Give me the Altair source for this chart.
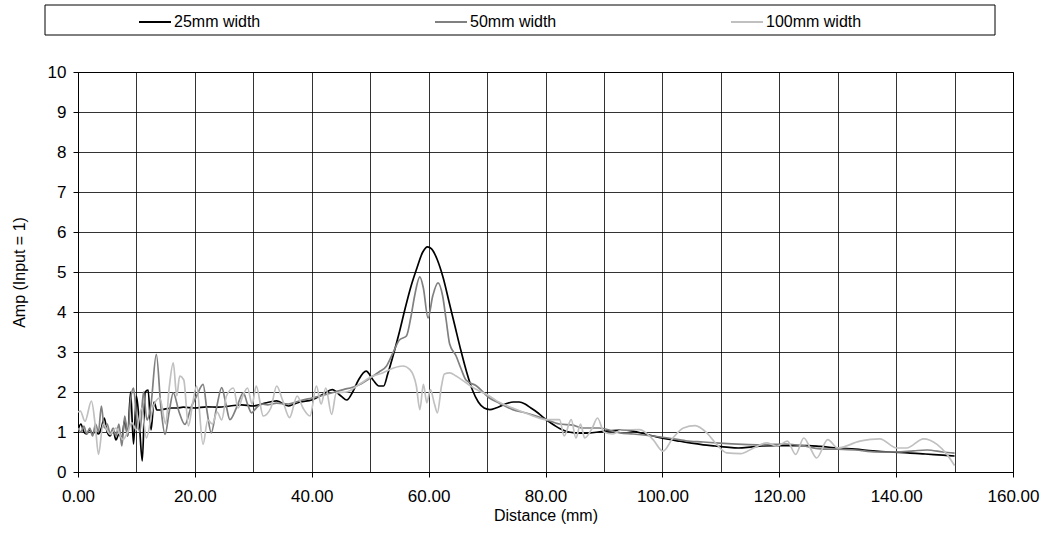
import altair as alt
import pandas as pd

# ---- data ----
x_25 = [0, 0.5, 1, 1.5, 2, 2.5, 3, 3.5, 4, 4.5, 5, 5.5, 6, 6.5, 7, 7.5, 8, 8.5, 9, 9.5,
        10, 10.5, 11, 11.5, 12, 12.5, 13, 13.5, 14, 15, 16, 17, 18, 20, 22, 24, 26, 28, 30,
        32, 34, 36, 37, 38, 40, 42, 43.5, 45, 46, 47, 48, 49.3, 50.5, 51.5, 52.3, 53, 54,
        55, 56, 57, 58, 59, 59.8, 60.5, 61.5, 62.5, 63.5, 64.5, 65.5, 66.5, 67.5, 68.5,
        69.5, 70.5, 71.5, 72.5, 73.5, 74.5, 75.5, 76.5, 77.5, 78.5, 79.5, 80.5, 81.5, 82.5,
        83.5, 85, 87, 89, 91, 93, 95, 97, 99, 101, 103, 105, 107, 109, 111, 113, 115, 117,
        119, 121, 123, 125, 127, 130, 133, 136, 139, 142, 145, 148, 150]
y_25 = [1.05, 1.2, 1.0, 0.95, 1.05, 0.97, 1.0, 0.95, 1.1, 1.35, 1.0, 0.9, 1.05, 0.8, 0.95,
        0.85, 1.3, 0.9, 2.0, 0.7, 1.9, 1.2, 0.28, 2.0, 2.05, 1.05, 1.75, 1.55, 1.55, 1.58,
        1.6, 1.6, 1.62, 1.6, 1.63, 1.62, 1.65, 1.68, 1.65, 1.72, 1.78, 1.65, 1.7, 1.75, 1.8,
        1.95, 2.06, 1.9, 1.8, 2.0, 2.3, 2.52, 2.3, 2.15, 2.15, 2.45, 2.95, 3.5, 4.1, 4.65,
        5.1, 5.5, 5.63, 5.58, 5.3, 4.85, 4.25, 3.65, 3.05, 2.5, 2.05, 1.75, 1.6, 1.56, 1.6,
        1.66, 1.72, 1.75, 1.75, 1.7, 1.6, 1.5, 1.38, 1.27, 1.17, 1.08, 1.02, 0.98, 0.97,
        1.0, 1.03, 1.05, 1.02, 0.95, 0.88, 0.82, 0.77, 0.72, 0.68, 0.65, 0.62, 0.6, 0.62,
        0.65, 0.66, 0.66, 0.66, 0.66, 0.64, 0.6, 0.57, 0.53, 0.5, 0.48, 0.45, 0.42, 0.4]

x_50 = [0, 0.5, 1, 1.5, 2, 2.5, 3, 3.5, 4, 4.5, 5, 5.5, 6, 6.5, 7, 7.5, 8, 8.5, 9, 9.5,
        10, 10.6, 11.2, 11.8, 12.5, 13.4, 14.2, 14.9, 15.6, 16.3, 17.3, 18.3, 19.3, 20.3,
        21.4, 22.1, 22.8, 23.7, 24.6, 25.3, 26, 27.1, 28.3, 29, 29.7, 30.5, 31.4, 32.5, 34,
        36, 38, 40, 42, 44, 45.4, 47, 48.2, 50, 51.5, 52.8, 53.9, 55, 56.2, 57, 57.6, 58.5,
        59.1, 59.9, 60.7, 61.6, 62.4, 63, 63.6, 64.7, 65.5, 66.4, 68.2, 70.4, 72.1, 74.4,
        76.5, 78.4, 80.1, 82.4, 84.7, 86.3, 89.2, 92.7, 95, 98.4, 101, 104, 107, 109.8,
        113.8, 117, 121, 124, 127, 130, 133, 136.6, 140, 143, 145.3, 148, 150]
y_50 = [1.1, 1.0, 1.15, 0.95, 1.1, 0.9, 1.2, 1.0, 1.65, 1.1, 1.2, 0.95, 1.1, 0.9, 1.2, 0.65,
        1.4, 0.9, 1.8, 2.1, 1.4, 1.0, 2.0, 1.3, 1.7, 2.94, 1.6, 0.94, 1.5, 1.98, 1.5, 1.19,
        1.6, 1.9, 2.19, 1.5, 0.98, 1.6, 2.11, 1.7, 1.31, 1.6, 1.98, 1.7, 1.48, 1.6, 1.7,
        1.68, 1.72, 1.7, 1.78, 1.85, 1.92, 2.0, 2.06, 2.12, 2.19, 2.35, 2.5, 2.65, 2.98,
        3.3, 3.4, 3.9, 4.4, 4.88, 4.6, 3.85, 4.4, 4.73, 4.4, 3.8, 3.2, 2.9, 2.6, 2.3, 2.15,
        1.85, 1.72, 1.56, 1.48, 1.4, 1.31, 1.2, 1.17, 1.1, 1.1, 0.98, 0.95, 0.9, 0.85, 0.78,
        0.75, 0.72, 0.69, 0.68, 0.7, 0.66, 0.58, 0.57, 0.55, 0.5, 0.5, 0.53, 0.55, 0.5, 0.47]

x_100 = [0, 0.4, 1.2, 2.3, 3, 3.5, 4.3, 5.5, 6.5, 7.7, 8.5, 9.2, 10, 10.9, 11.7, 12.9, 14,
         15, 15.6, 16.3, 16.9, 17.4, 18.1, 18.9, 19.6, 20.3, 21.4, 22.2, 23, 23.8, 24.6,
         25.4, 26.6, 27.4, 28.2, 29, 29.8, 30.5, 31.7, 33, 34, 35, 36.2, 37.5, 38.5, 39.7,
         40.8, 41.6, 42.4, 43.4, 44.2, 46, 48.2, 50.5, 52.2, 54, 55.6, 56.8, 57.9, 58.5,
         59.1, 59.7, 60.3, 61, 61.5, 62.2, 62.7, 63.6, 64.7, 66.4, 68.2, 70.4, 72, 74.4, 77,
         80.1, 82.4, 83.2, 84.4, 85.2, 86, 86.7, 88, 88.9, 90, 91.5, 93, 96.1, 98.4, 100.1,
         101.8, 103.6, 105.6, 107.6, 109.3, 111, 113.4, 115.6, 117.9, 119.6, 121.4, 122.8,
         124.2, 125.3, 126.4, 128.3, 130, 133.8, 137.2, 140.1, 141.8, 144.7, 147, 148.7, 150]
y_100 = [1.5, 1.52, 1.27, 1.77, 1.1, 0.44, 1.2, 0.94, 1.1, 0.81, 1.0, 1.23, 1.05, 1.6, 0.85,
         1.65, 1.85, 1.2, 2.1, 2.73, 1.9, 2.4, 2.3, 1.15, 1.7, 2.15, 0.69, 1.3, 1.2, 1.5,
         1.3, 1.9, 2.1, 1.6, 1.9, 2.1, 1.7, 2.15, 1.4, 1.6, 2.15, 1.8, 1.36, 1.9, 1.6, 1.4,
         2.15, 1.7, 2.1, 1.44, 1.98, 2.0, 2.2, 2.4, 2.48, 2.6, 2.65, 2.56, 2.15, 1.56, 2.19,
         1.73, 2.06, 1.7, 1.48, 2.15, 2.45, 2.48, 2.4, 2.23, 2.06, 1.9, 1.75, 1.6, 1.45,
         1.31, 1.31, 0.9, 1.31, 0.85, 1.2, 0.85, 1.1, 1.35, 1.0, 0.95, 1.05, 1.06, 0.81,
         0.52, 0.85, 1.1, 1.16, 0.98, 0.69, 0.48, 0.46, 0.6, 0.73, 0.65, 0.77, 0.44, 0.85,
         0.6, 0.35, 0.81, 0.6, 0.77, 0.83, 0.6, 0.6, 0.83, 0.69, 0.44, 0.16]

series_names = ["25mm width", "50mm width", "100mm width"]
series_colors = ["#000000", "#808080", "#c0c0c0"]
x_ticks = list(range(0, 161, 10))
y_ticks = list(range(0, 11, 1))

rows = []
for name, xs, ys in zip(series_names, [x_25, x_50, x_100], [y_25, y_50, y_100]):
    for i, (xv, yv) in enumerate(zip(xs, ys)):
        rows.append({"series": name, "x": xv, "y": yv, "i": i})
df = pd.DataFrame(rows)

FONT = "Liberation Sans"

lines = alt.Chart(df).mark_line(interpolate="monotone", strokeWidth=1.7, clip=True).encode(
    x=alt.X("x:Q",
            scale=alt.Scale(domain=[0, 160], nice=False, zero=False),
            axis=alt.Axis(values=x_ticks,
                          labelExpr="datum.value % 20 == 0 ? format(datum.value, '.2f') : ''",
                          tickOpacity={"condition": {"test": "datum.value % 20 != 0", "value": 0}, "value": 1},
                          title="Distance (mm)", titlePadding=3, labelPadding=11,
                          labelFontSize=17,
                          labelFlush=False, labelOverlap=False)),
    y=alt.Y("y:Q",
            scale=alt.Scale(domain=[0, 10], nice=False),
            axis=alt.Axis(values=y_ticks, format="d", title="Amp (Input = 1)",
                          labelFontSize=17, titlePadding=20, labelPadding=7)),
    color=alt.Color("series:N",
                    scale=alt.Scale(domain=series_names, range=series_colors),
                    legend=alt.Legend(orient="none", legendX=60, legendY=-67,
                                      direction="horizontal", columns=3,
                                      columnPadding=170, title=None,
                                      symbolType="stroke", symbolSize=1024,
                                      symbolStrokeWidth=2, labelOffset=2,
                                      labelFontSize=16, labelFont=FONT,
                                      labelColor="#000000")),
    order="i:Q",
    detail="series:N",
)

frame = alt.Chart(alt.Data(values=[{"a": 1}])).mark_rect(
    fill=None, stroke="#000000", strokeWidth=1
).encode(
    x=alt.value(-33), x2=alt.value(917), y=alt.value(-67), y2=alt.value(-37)
)

chart = alt.layer(frame, lines).properties(
    width=935, height=400,
    autosize=alt.AutoSizeParams(type="none"),
    padding={"left": 78, "top": 72, "right": 35, "bottom": 68},
    background="#ffffff",
).configure_axis(
    labelFont=FONT, titleFont=FONT, labelFontSize=16, titleFontSize=16,
    labelColor="#000000", titleColor="#000000", titleFontWeight="normal",
    gridColor="#000000", gridWidth=1, gridOpacity=0.8,
    domainColor="#000000", tickColor="#000000", tickSize=5, domainWidth=1,
).configure_view(stroke="#000000", strokeWidth=1)

chart.save("out.html", embed_options={"renderer": "svg", "actions": False})
